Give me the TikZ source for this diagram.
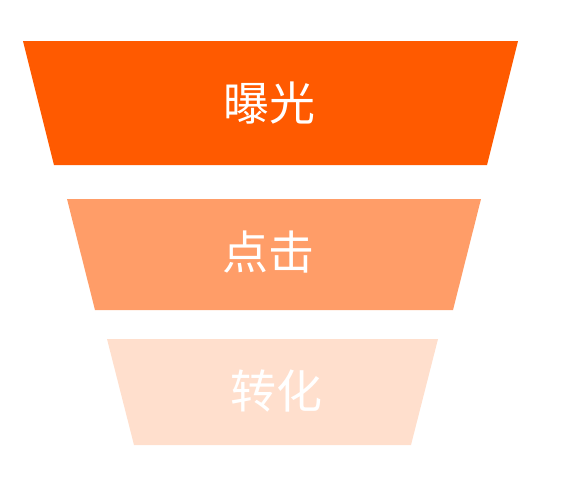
\documentclass[tikz,border=0pt]{standalone}
\usepackage{fontspec}
\newfontfamily\cjk{Noto Sans CJK SC}
\definecolor{lvlA}{HTML}{FF5A00}
\definecolor{lvlB}{HTML}{FF9D68}
\definecolor{lvlC}{HTML}{FFDFCD}
\tikzset{funneltext/.style={text=white, inner sep=0pt, font=\cjk\fontsize{46}{46}\selectfont}}
\begin{document}
\begin{tikzpicture}[x=1pt,y=-1pt]
\useasboundingbox (0,0) rectangle (588,477);
\fill[lvlA] (23,41) -- (518,41) -- (487,165) -- (54,165) -- cycle;
\fill[lvlB] (67,199) -- (481,199) -- (453,310) -- (95,310) -- cycle;
\fill[lvlC] (107,339) -- (438,339) -- (411,445) -- (134,445) -- cycle;
\node[funneltext] (lvl0) at (269,103){曝光};
\node[funneltext] (lvl1) at (268,252){点击};
\node[funneltext] (lvl2) at (276,391){转化};

\end{tikzpicture}
\end{document}
